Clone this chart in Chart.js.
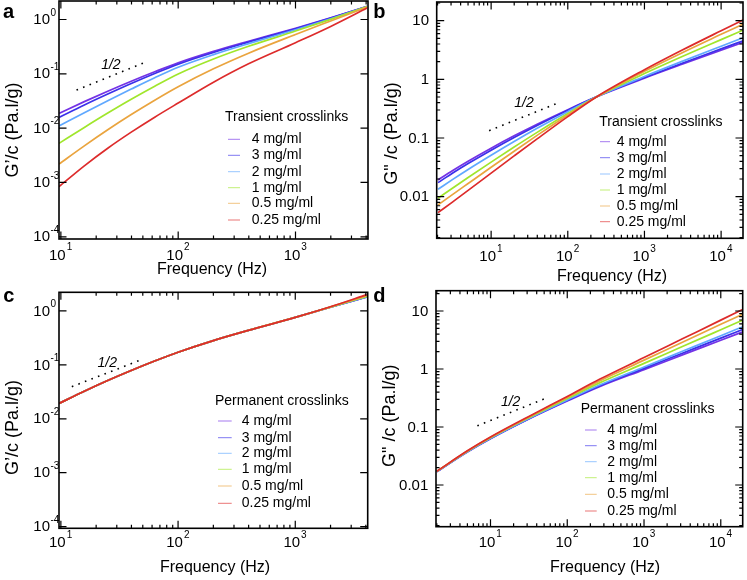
<!DOCTYPE html>
<html>
<head>
<meta charset="utf-8">
<script src="https://cdn.jsdelivr.net/npm/chart.js@4.4.0/dist/chart.umd.min.js"></script>
<style>
  body { margin: 0; background: #fff; width: 747px; height: 580px; position: relative; overflow: hidden; }
  canvas { position: absolute; }
  #ca { left: 0; top: 0; }
  #cb { left: 372px; top: 0; }
  #cc { left: 0; top: 283px; }
  #cd { left: 372px; top: 283px; }
</style>
</head>
<body>
<canvas id="ca" width="372" height="290"></canvas>
<canvas id="cb" width="375" height="290"></canvas>
<canvas id="cc" width="372" height="297"></canvas>
<canvas id="cd" width="375" height="297"></canvas>
<script>
// ---- data ----
const concLabels = ['4 mg/ml', '3 mg/ml', '2 mg/ml', '1 mg/ml', '0.5 mg/ml', '0.25 mg/ml'];

// a: G'/c, transient crosslinks
const freqA = [9.64, 15.85, 25.1, 39.8, 63.1, 100, 200, 398, 1000, 1995, 4074];
const gStoreTransient = [
  [0.01871, 0.03076, 0.04786, 0.07311, 0.1091, 0.1592, 0.2582, 0.3963, 0.6887, 1.0715, 1.742],
  [0.01578, 0.02667, 0.04236, 0.06622, 0.1012, 0.1503, 0.2472, 0.3828, 0.6714, 1.057, 1.734],
  [0.01094, 0.01928, 0.03199, 0.05236, 0.08472, 0.1324, 0.2259, 0.3597, 0.6471, 1.033, 1.714],
  [0.005236, 0.0103, 0.01892, 0.03396, 0.05902, 0.09931, 0.1875, 0.3214, 0.6124, 1.007, 1.722],
  [0.002183, 0.004721, 0.009333, 0.01778, 0.03266, 0.05781, 0.1236, 0.2399, 0.5297, 0.9397, 1.69],
  [0.0008356, 0.002023, 0.004266, 0.008433, 0.01592, 0.02897, 0.07015, 0.1531, 0.3741, 0.7464, 1.626]
];

// b: G''/c, transient crosslinks
const freqB = [2.03, 3.16, 5.01, 10, 19.95, 39.8, 100, 245, 1000, 3162, 10000, 19500];
const gLossTransient = [
  [0.01928, 0.02799, 0.04027, 0.06714, 0.1089, 0.1718, 0.3041, 0.5117, 1.047, 1.82, 3.126, 4.276],
  [0.01734, 0.02529, 0.03664, 0.06194, 0.1021, 0.1637, 0.2972, 0.5129, 1.072, 1.897, 3.304, 4.56],
  [0.01337, 0.01968, 0.02904, 0.0507, 0.0869, 0.1459, 0.2812, 0.5129, 1.119, 2.042, 3.664, 5.129],
  [0.0094, 0.01406, 0.02118, 0.03873, 0.06998, 0.1245, 0.2612, 0.5129, 1.253, 2.472, 4.753, 6.934],
  [0.00723, 0.01094, 0.01675, 0.0317, 0.05957, 0.1107, 0.2472, 0.5129, 1.371, 2.877, 5.848, 8.79],
  [0.00533, 0.008166, 0.01276, 0.02512, 0.04943, 0.09661, 0.2317, 0.5152, 1.455, 3.184, 6.73, 10.33]
];

// c: G'/c, permanent crosslinks
const freqC = [9.64, 15.85, 25.1, 39.8, 63.1, 100, 200, 398, 1000, 1995, 4074];
const gStorePermanent = [
  [0.01923, 0.03243, 0.05117, 0.07852, 0.1178, 0.1718, 0.2825, 0.4365, 0.7586, 1.175, 1.82],
  [0.01923, 0.03243, 0.05117, 0.07852, 0.1178, 0.1718, 0.2825, 0.4365, 0.7586, 1.175, 1.82],
  [0.01923, 0.03243, 0.05117, 0.07852, 0.1178, 0.1718, 0.2825, 0.4365, 0.7586, 1.178, 1.83],
  [0.01923, 0.03243, 0.05117, 0.07852, 0.1178, 0.1718, 0.2825, 0.4365, 0.7586, 1.18, 1.86],
  [0.01923, 0.03243, 0.05117, 0.07852, 0.1178, 0.1718, 0.2825, 0.4365, 0.7586, 1.19, 1.93],
  [0.01923, 0.03243, 0.05117, 0.07852, 0.1178, 0.1718, 0.2825, 0.4365, 0.7586, 1.197, 2.014]
];

// d: G''/c, permanent crosslinks
const freqD = [2, 5, 10, 31.6, 100, 263, 1000, 3162, 10000, 19500];
const gLossPermanent = [
  [0.01698, 0.03715, 0.06281, 0.1374, 0.2805, 0.4955, 0.975, 1.75, 3.133, 4.395],
  [0.01702, 0.03733, 0.06324, 0.139, 0.2858, 0.5105, 1.026, 1.871, 3.412, 4.83],
  [0.01706, 0.03754, 0.06383, 0.1406, 0.2924, 0.5297, 1.086, 2.018, 3.75, 5.37],
  [0.01714, 0.03802, 0.06516, 0.1449, 0.309, 0.5768, 1.25, 2.438, 4.753, 7.0],
  [0.01722, 0.03855, 0.06637, 0.1489, 0.3243, 0.6237, 1.422, 2.891, 5.888, 8.87],
  [0.01726, 0.0389, 0.0673, 0.1524, 0.3373, 0.6637, 1.574, 3.311, 6.966, 10.72]
];

// slope-1/2 guide lines: [start, end] and where the "1/2" sits
const guideFreqA = [13.6, 53.8], guideValA = [0.0503, 0.167], halfA = [26.7, 0.145];
const guideFreqB = [9.42, 76.4], guideValB = [0.1334, 0.40], halfB = [26.8, 0.391];
const guideFreqC = [12.4, 50.4], guideValC = [0.0394, 0.1286], halfC = [24.9, 0.107];
const guideFreqD = [6.74, 56.3], guideValD = [0.105, 0.325], halfD = [18.3, 0.273];

// tick labels
const xExpA = [1, 2, 3];
const xExpB = [1, 2, 3, 4];
const yExpA = [0, -1, -2, -3, -4];
const yValsB = [10, 1, 0.1, 0.01];
const yTextB = ['10', '1', '0.1', '0.01'];

// ---- styling ----
const lineColors = ['#7432e6', '#3b30ea', '#5fa8ff', '#a0e62c', '#eaa43e', '#dd2b2b'];
const FONT = '"Liberation Sans", Arial, sans-serif';

function logSteps(min, max, withMinor) {
  const out = [];
  for (let n = Math.floor(Math.log10(min)); n <= Math.ceil(Math.log10(max)); n++) {
    for (let k = 1; k <= 9; k++) {
      if (k > 1 && !withMinor) continue;
      const v = k * Math.pow(10, n);
      if (v >= min * 0.999 && v <= max * 1.001) out.push({ v: v, major: k === 1 });
    }
  }
  return out;
}

function framePlugin(L) {
  return {
    id: 'frame_' + L.letter,
    afterDatasetsDraw(chart) {
      const ctx = chart.ctx, ca = chart.chartArea;
      const xs = chart.scales.x, ys = chart.scales.y;
      ctx.save();

      // inward ticks on all four sides
      ctx.strokeStyle = '#000';
      ctx.lineWidth = 1.2;
      ctx.beginPath();
      logSteps(xs.min, xs.max, true).forEach(t => {
        const p = xs.getPixelForValue(t.v), len = t.major ? 7.5 : 3.5;
        ctx.moveTo(p, ca.bottom); ctx.lineTo(p, ca.bottom - len);
        ctx.moveTo(p, ca.top); ctx.lineTo(p, ca.top + len);
      });
      logSteps(ys.min, ys.max, L.minorY).forEach(t => {
        const p = ys.getPixelForValue(t.v), len = t.major ? 7.5 : 3.5;
        ctx.moveTo(ca.left, p); ctx.lineTo(ca.left + len, p);
        ctx.moveTo(ca.right, p); ctx.lineTo(ca.right - len, p);
      });
      ctx.stroke();
      ctx.lineWidth = 1.6;
      ctx.strokeRect(ca.left, ca.top, ca.right - ca.left, ca.bottom - ca.top);

      // x tick labels 10^n
      ctx.fillStyle = '#000';
      ctx.textBaseline = 'middle';
      L.xExp.forEach(n => {
        const p = xs.getPixelForValue(Math.pow(10, n)) - 3.5;
        const cy = ca.bottom + L.xLabelOff;
        ctx.font = '15px ' + FONT;
        ctx.textAlign = 'center';
        ctx.fillText('10', p, cy);
        const w = ctx.measureText('10').width;
        ctx.font = '10px ' + FONT;
        ctx.textAlign = 'left';
        ctx.fillText(String(n), p + w / 2 + 1, cy - 8);
      });

      // y tick labels
      if (L.yExp) {
        L.yExp.forEach(n => {
          const p = ys.getPixelForValue(Math.pow(10, n));
          ctx.font = '15px ' + FONT;
          ctx.textAlign = 'right';
          ctx.fillText('10', ca.left - 9, p + 0.5);
          ctx.font = '10px ' + FONT;
          ctx.textAlign = 'left';
          ctx.fillText(String(n), ca.left - 8.5, p - 6.5);
        });
      } else {
        L.yVals.forEach((v, i) => {
          const p = ys.getPixelForValue(v);
          ctx.font = '15px ' + FONT;
          ctx.textAlign = 'right';
          ctx.fillText(L.yText[i], ca.left - 7.7, p + 0.5);
        });
      }

      // axis titles
      ctx.font = '16px ' + FONT;
      ctx.textAlign = 'center';
      ctx.fillText('Frequency (Hz)', L.xTitle[0], L.xTitle[1]);
      ctx.save();
      ctx.translate(L.yTitle[0], L.yTitle[1]);
      ctx.rotate(-Math.PI / 2);
      ctx.font = '18px ' + FONT;
      ctx.fillText(L.yTitleText, 0, 0);
      ctx.restore();

      // panel letter
      ctx.font = 'bold 20px ' + FONT;
      ctx.textAlign = 'left';
      ctx.textBaseline = 'alphabetic';
      ctx.fillText(L.letter, L.letterPos[0], L.letterPos[1]);

      // "1/2" on the guide
      ctx.font = 'italic 14px ' + FONT;
      ctx.textAlign = 'center';
      ctx.textBaseline = 'middle';
      ctx.fillText('1/2', xs.getPixelForValue(L.half[0]), ys.getPixelForValue(L.half[1]));

      // legend
      const lg = L.legend;
      ctx.font = '14px ' + FONT;
      ctx.textAlign = 'left';
      ctx.fillText(L.legendTitle, lg.tx, lg.ty);
      chart.data.datasets.filter(d => !d.isGuide).forEach((d, i) => {
        const yy = lg.ys[i];
        ctx.globalAlpha = 0.65;
        ctx.strokeStyle = d.borderColor;
        ctx.lineWidth = 1;
        ctx.beginPath();
        ctx.moveTo(lg.lx0, yy); ctx.lineTo(lg.lx1, yy);
        ctx.stroke();
        ctx.globalAlpha = 1;
        ctx.fillText(d.label, lg.textX, yy);
      });
      ctx.restore();
    }
  };
}

function makePanel(id, freq, rows, gF, gV, L) {
  // later series (lower concentration) are painted on top, as in the figure
  const datasets = rows.map((r, i) => ({
    label: concLabels[i],
    data: freq.map((f, j) => ({ x: f, y: r[j] })),
    borderColor: lineColors[i],
    borderWidth: 1.7,
    pointRadius: 0,
    fill: false,
    cubicInterpolationMode: 'monotone',
    order: rows.length - i
  }));
  datasets.push({
    label: 'slope 1/2',
    isGuide: true,
    data: gF.map((f, j) => ({ x: f, y: gV[j] })),
    borderColor: '#000',
    borderWidth: 1.6,
    borderDash: [1.6, 5.4],
    pointRadius: 0,
    fill: false,
    order: 0
  });
  return new Chart(document.getElementById(id), {
    type: 'line',
    data: { datasets: datasets },
    options: {
      responsive: false,
      animation: false,
      events: [],
      layout: { padding: { top: L.padTop, right: L.padRight, left: 0, bottom: 0 } },
      plugins: { legend: { display: false }, tooltip: { enabled: false } },
      scales: {
        x: {
          type: 'logarithmic', min: L.xMin, max: L.xMax,
          ticks: { display: false }, grid: { display: false }, border: { display: false },
          afterFit: s => { s.height = L.xh; }
        },
        y: {
          type: 'logarithmic', min: L.yMin, max: L.yMax,
          ticks: { display: false }, grid: { display: false }, border: { display: false },
          afterFit: s => { s.width = L.yw; }
        }
      }
    },
    plugins: [framePlugin(L)]
  });
}

makePanel('ca', freqA, gStoreTransient, guideFreqA, guideValA, {
  letter: 'a', letterPos: [3, 18.3],
  xMin: 9.64, xMax: 4150, yMin: 9.1e-5, yMax: 2.19,
  yw: 59, xh: 51, padTop: 1, padRight: 4, minorY: false,
  xExp: xExpA, yExp: yExpA, xLabelOff: 16.5,
  xTitle: [212, 270], yTitle: [13, 130], yTitleText: 'G\u2019/c (Pa.l/g)',
  half: halfA, legendTitle: 'Transient crosslinks',
  legend: { tx: 225, ty: 117.3, lx0: 228, lx1: 240, textX: 251.7, ys: [139.3, 155.3, 171.7, 187.7, 203.3, 220] }
});

makePanel('cb', freqB, gLossTransient, guideFreqB, guideValB, {
  letter: 'b', letterPos: [1.3, 18.3],
  xMin: 1.95, xMax: 19300, yMin: 0.00195, yMax: 20.8,
  yw: 64.7, xh: 51.7, padTop: 2, padRight: 4, minorY: true,
  xExp: xExpB, yVals: yValsB, yText: yTextB, xLabelOff: 19,
  xTitle: [240, 276.7], yTitle: [19.7, 133.5], yTitleText: 'G" /c (Pa.l/g)',
  half: halfB, legendTitle: 'Transient crosslinks',
  legend: { tx: 227.3, ty: 121.7, lx0: 228, lx1: 238, textX: 244.7, ys: [141.7, 157.7, 174, 190, 206, 221.7] }
});

makePanel('cc', freqC, gStorePermanent, guideFreqC, guideValC, {
  letter: 'c', letterPos: [3.3, 18.7],
  xMin: 9.64, xMax: 4150, yMin: 9.3e-5, yMax: 2.22,
  yw: 59, xh: 51.7, padTop: 9.3, padRight: 4.3, minorY: false,
  xExp: xExpA, yExp: yExpA, xLabelOff: 14.5,
  xTitle: [215, 285], yTitle: [12.7, 144.5], yTitleText: 'G\u2019/c (Pa.l/g)',
  half: halfC, legendTitle: 'Permanent crosslinks',
  legend: { tx: 215, ty: 118, lx0: 218, lx1: 231.7, textX: 241.7, ys: [138, 154.7, 170.3, 186.3, 203, 220.3] }
});

makePanel('cd', freqD, gLossPermanent, guideFreqD, guideValD, {
  letter: 'd', letterPos: [1.3, 18.7],
  xMin: 1.95, xMax: 19300, yMin: 0.00191, yMax: 22.4,
  yw: 64, xh: 53.3, padTop: 7.7, padRight: 4.3, minorY: true,
  xExp: xExpB, yVals: yValsB, yText: yTextB, xLabelOff: 16,
  xTitle: [233, 285], yTitle: [18, 132.8], yTitleText: 'G" /c (Pa.l/g)',
  half: halfD, legendTitle: 'Permanent crosslinks',
  legend: { tx: 208.7, ty: 126, lx0: 213, lx1: 224.7, textX: 235.3, ys: [147, 162.7, 178.7, 194.7, 211.3, 228] }
});
</script>
</body>
</html>
